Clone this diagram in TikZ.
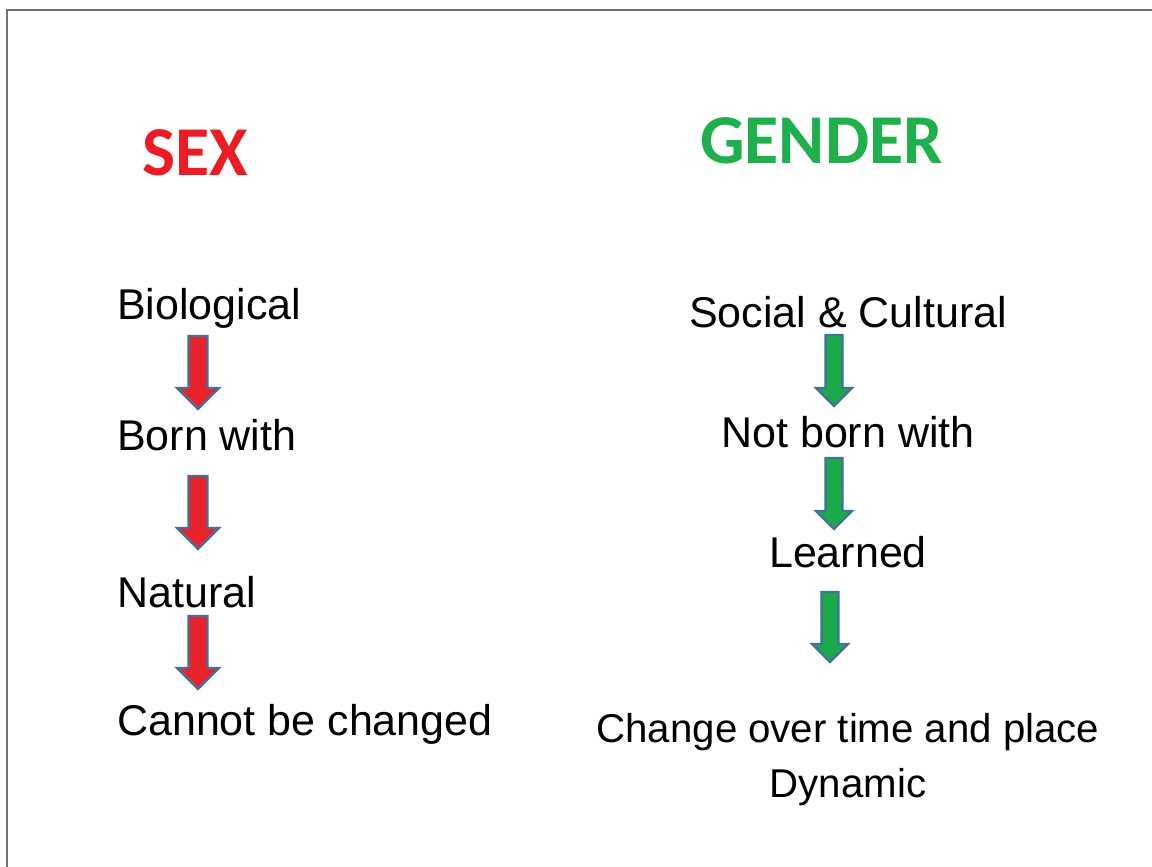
\documentclass[tikz,border=0pt]{standalone}
\usepackage{fontspec}
\setmainfont{Liberation Sans}
\newfontfamily\headfont{Carlito}
\definecolor{sexred}{HTML}{ED1C24}
\definecolor{gengreen}{HTML}{1DB04B}
\definecolor{arrred}{HTML}{E8232A}
\definecolor{arrgreen}{HTML}{1AAA4A}
\definecolor{arredge}{HTML}{41719C}
\definecolor{framegray}{HTML}{707070}
\tikzset{
  heading/.style={inner sep=0pt, anchor=base west, font=\headfont\bfseries\fontsize{70}{84}\selectfont},
  item/.style={inner sep=0pt, font=\fontsize{43}{50}\selectfont},
  smallitem/.style={inner sep=0pt, anchor=base, font=\fontsize{40.2}{48}\selectfont},
  leftitem/.style={item, anchor=base west},
  rightitem/.style={item, anchor=base},
  blockarrow/.style={draw=arredge, line width=2.2pt, line join=miter}
}
% #1 center x, #2 top y, #3 head base y, #4 tip y, #5 half shaft, #6 half head, #7 colour
\newcommand{\blkarrow}[7]{%
  \fill[#7] (#1-#5,#2) -- (#1+#5,#2) -- (#1+#5,#3) -- (#1+#6,#3) -- (#1,#4) -- (#1-#6,#3) -- (#1-#5,#3) -- cycle;
  \draw[blockarrow] (#1-#5,#2) -- (#1+#5,#2) -- (#1+#5,#3) -- (#1+#6,#3) -- (#1,#4) -- (#1-#6,#3) -- (#1-#5,#3) -- cycle;
}
\begin{document}
\begin{tikzpicture}[x=1pt,y=-1pt]
\useasboundingbox (0,0) rectangle (1152,867);
\fill[white] (0,0) rectangle (1152,867);
\begin{scope}
\clip (0,0) rectangle (1152,867);
\draw[framegray, line width=2pt] (7,880) -- (7,10) -- (1170,10);
\end{scope}

\node[heading, text=sexred] (sex) at (142,175) {SEX};
\node[heading, text=gengreen] (gender) at (700,163) {GENDER};

\node[leftitem] (bio) at (117,319) {Biological};
\node[leftitem] (born) at (117,450) {Born with};
\node[leftitem] (nat) at (117,607) {Natural};
\node[leftitem] (cannot) at (117,735) {Cannot be changed};

\node[rightitem] (soc) at (848,327) {Social \& Cultural};
\node[rightitem] (notborn) at (848,447) {Not born with};
\node[rightitem] (learned) at (848,567) {Learned};
\node[smallitem] (change) at (848,742) {Change over time and place};
\node[smallitem] (dyn) at (848,797) {Dynamic};

\blkarrow{198}{336}{388}{409}{9.5}{21}{arrred}
\blkarrow{198}{476}{528}{549}{9.5}{21}{arrred}
\blkarrow{198}{616}{668}{689}{9.5}{21}{arrred}

\blkarrow{834}{335}{388}{406}{8.5}{18}{arrgreen}
\blkarrow{834}{458}{511}{529}{8.5}{18}{arrgreen}
\blkarrow{830}{592}{644}{662}{8.5}{18}{arrgreen}
\end{tikzpicture}
\end{document}
